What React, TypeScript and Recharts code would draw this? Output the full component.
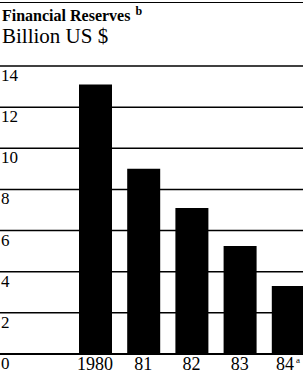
import { BarChart, Bar, XAxis, YAxis, CartesianGrid } from "recharts";

const years = ["1980", "81", "82", "83", "84"];
const reserves = [13.1, 9.0, 7.1, 5.25, 3.3];
const yTicks = [0, 2, 4, 6, 8, 10, 12, 14];

const data = years.map((year, i) => ({ year, value: reserves[i] }));

const serif = '"Liberation Serif", "DejaVu Serif", serif';

const YTick = ({ y, payload }: any) => (
  <text x={1} y={y} dy={15} fontSize={17} fontFamily={serif} fill="#000" textAnchor="start">
    {payload.value}
  </text>
);

const XTick = ({ x, y, payload, index }: any) => (
  <text x={x} y={y} dy={8} fontSize={18} fontFamily={serif} fill="#000" textAnchor="middle">
    {payload.value}
    {index === years.length - 1 && (
      <tspan fontSize={9} dy={-7} dx={2}>a</tspan>
    )}
  </text>
);

export default function App() {
  return (
    <div
      style={{
        position: "absolute",
        left: 0,
        top: 2,
        width: 303,
        height: 373,
        overflow: "hidden",
        background: "#fff",
        borderTop: "1.5px solid #000",
        boxSizing: "border-box",
        fontFamily: serif,
        color: "#000",
      }}
    >
      <div style={{ position: "absolute", top: 0, left: 0 }}>
        <BarChart width={312} height={372} data={data} margin={{ top: 63, right: 0, bottom: 0, left: 0 }}>
          <CartesianGrid vertical={false} stroke="#000" strokeWidth={1.5} />
          <XAxis
            dataKey="year"
            height={21}
            padding={{ left: 71, right: 0 }}
            axisLine={{ stroke: "#000", strokeWidth: 2 }}
            tickLine={false}
            tick={<XTick />}
            interval={0}
          />
          <YAxis
            width={1}
            mirror
            domain={[0, 14]}
            ticks={yTicks}
            axisLine={false}
            tickLine={false}
            tick={<YTick />}
          />
          <Bar dataKey="value" fill="#000" barSize={33} isAnimationActive={false} />
        </BarChart>
      </div>
      <div style={{ position: "absolute", top: 1, left: 2, fontSize: 16, fontWeight: "bold", whiteSpace: "nowrap" }}>
        Financial Reserves<span style={{ fontSize: 12, verticalAlign: "6px", marginLeft: 5 }}>b</span>
      </div>
      <div style={{ position: "absolute", top: 21, left: 2, fontSize: 21, whiteSpace: "nowrap" }}>
        Billion US $
      </div>
    </div>
  );
}
